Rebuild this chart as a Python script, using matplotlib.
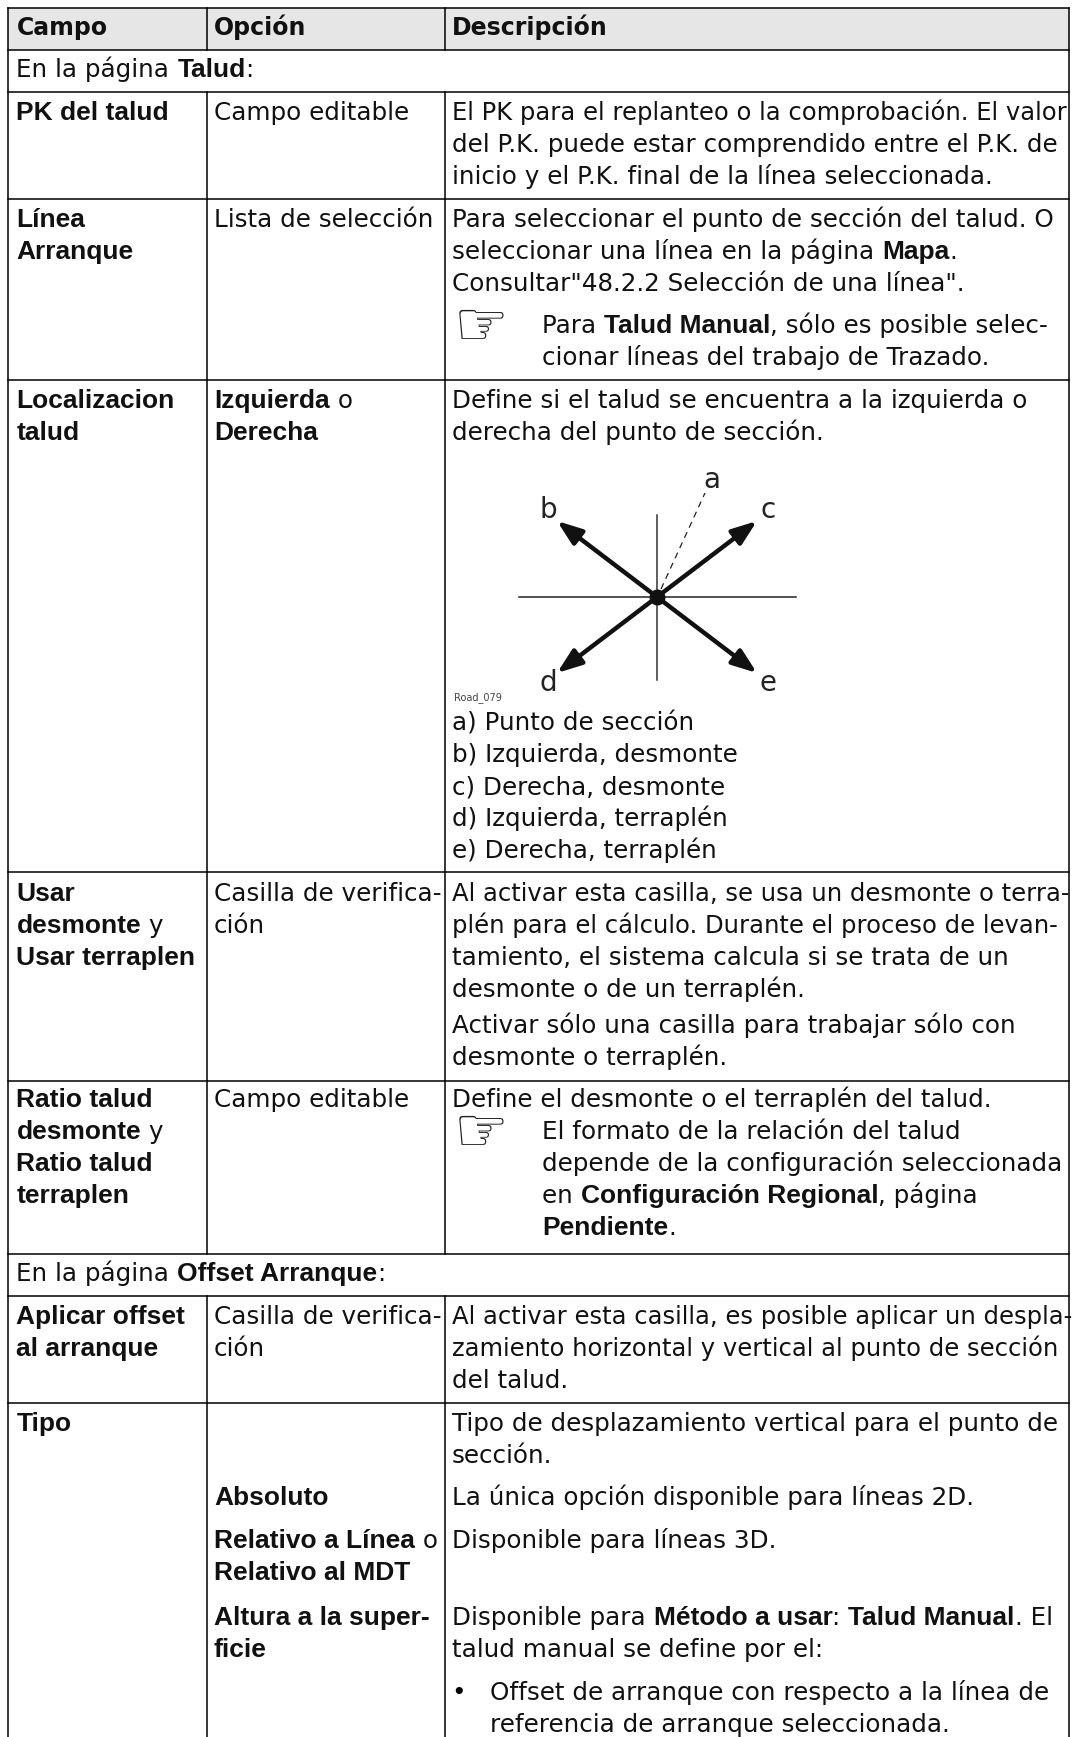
import re
import matplotlib
matplotlib.use('Agg')
import matplotlib.pyplot as plt

# table text, **x** marks bold runs
headers = ['Campo', 'Opción', 'Descripción']
section_titles = ['En la página **Talud**:', 'En la página **Offset Arranque**:']

campo = ['PK del talud', 'Línea', 'Arranque', 'Localizacion', 'talud',
         'Usar', 'desmonte** y', 'Usar terraplen',
         'Ratio talud', 'desmonte** y', 'Ratio talud', 'terraplen',
         'Aplicar offset', 'al arranque', 'Tipo']
campo_y = [120, 227, 259, 408, 440, 901, 933, 965, 1107, 1139, 1171, 1203, 1324, 1356, 1431]

opcion = ['Campo editable', 'Lista de selección', '**Izquierda** o', '**Derecha**',
          'Casilla de verifica-', 'ción', 'Campo editable',
          'Casilla de verifica-', 'ción', '**Absoluto**',
          '**Relativo a Línea** o', '**Relativo al MDT**',
          '**Altura a la super-**', '**ficie**']
opcion_y = [120, 227, 408, 440, 901, 933, 1107, 1324, 1356, 1505, 1548, 1580, 1625, 1657]

descripcion = [
    'El PK para el replanteo o la comprobación. El valor',
    'del P.K. puede estar comprendido entre el P.K. de',
    'inicio y el P.K. final de la línea seleccionada.',
    'Para seleccionar el punto de sección del talud. O',
    'seleccionar una línea en la página **Mapa**.',
    'Consultar"48.2.2 Selección de una línea".',
    'Define si el talud se encuentra a la izquierda o',
    'derecha del punto de sección.',
    'a) Punto de sección',
    'b) Izquierda, desmonte',
    'c) Derecha, desmonte',
    'd) Izquierda, terraplén',
    'e) Derecha, terraplén',
    'Al activar esta casilla, se usa un desmonte o terra-',
    'plén para el cálculo. Durante el proceso de levan-',
    'tamiento, el sistema calcula si se trata de un',
    'desmonte o de un terraplén.',
    'Activar sólo una casilla para trabajar sólo con',
    'desmonte o terraplén.',
    'Define el desmonte o el terraplén del talud.',
    'Al activar esta casilla, es posible aplicar un despla-',
    'zamiento horizontal y vertical al punto de sección',
    'del talud.',
    'Tipo de desplazamiento vertical para el punto de',
    'sección.',
    'La única opción disponible para líneas 2D.',
    'Disponible para líneas 3D.',
    'Disponible para **Método a usar**: **Talud Manual**. El',
    'talud manual se define por el:',
]
descripcion_y = [120, 152, 184, 227, 259, 291, 408, 440, 730, 762, 794, 826, 858,
                 901, 933, 965, 997, 1033, 1065, 1107, 1324, 1356, 1388,
                 1431, 1463, 1505, 1548, 1625, 1657]

# these lines sit tight against the right border in the reference
tight_lines = [descripcion[0], descripcion[13], descripcion[14], descripcion[20], descripcion[21]]

notas = ['Para **Talud Manual**, sólo es posible selec-',
         'cionar líneas del trabajo de Trazado.',
         'El formato de la relación del talud',
         'depende de la configuración seleccionada',
         'en **Configuración Regional**, página',
         '**Pendiente**.']
notas_y = [333, 365, 1139, 1171, 1203, 1235]
nota_mano_y = [333, 1139]

vinetas = ['Offset de arranque con respecto a la línea de',
           'referencia de arranque seleccionada.']
vinetas_y = [1700, 1732]

diagram_labels = ['a', 'b', 'c', 'd', 'e']
diagram_label_x = [712, 548, 768, 548, 768]
diagram_label_y = [488, 518, 518, 691, 691]
arrow_x = [557, 757, 557, 757]
arrow_y = [521, 521, 673, 673]

rows_y = [7.5, 50, 92, 199, 380, 872, 1081, 1254, 1296, 1403]
col_x = [7.5, 207, 445, 1069]

W, H = 1078, 1737
fig = plt.figure(figsize=(W / 100, H / 100), dpi=100)
ax = fig.add_axes([0, 0, 1, 1])
ax.set_xlim(0, W)
ax.set_ylim(H, 0)
ax.axis('off')
renderer = fig.canvas.get_renderer()

REG = dict(family='DejaVu Sans', fontsize=17.7)
REG_TIGHT = dict(family='DejaVu Sans', fontsize=17.5)
BOLD = dict(family='Liberation Sans', fontsize=19, fontweight='bold')


def text_width(s, style):
    t = ax.text(0, 0, '|' + s + '|', **style)
    w = t.get_window_extent(renderer).width
    t.set_text('||')
    w -= t.get_window_extent(renderer).width
    t.remove()
    return w


def draw_runs(x, y, s, start_bold=False):
    bold = start_bold
    reg = REG_TIGHT if s in tight_lines else REG
    for run in re.split(r'\*\*', s):
        if run:
            style = BOLD if bold else reg
            ax.text(x, y, run, va='baseline', ha='left', color='#111111', **style)
            x += text_width(run, style)
        bold = not bold


# header band and grid
ax.fill_between([col_x[0], col_x[3]], rows_y[0], rows_y[1], color='#e6e6e6', lw=0, zorder=0)
for y in rows_y:
    ax.plot([col_x[0], col_x[3]], [y, y], color='k', lw=1.1)
ax.plot([col_x[0], col_x[0]], [rows_y[0], H], color='k', lw=1.1)
ax.plot([col_x[3], col_x[3]], [rows_y[0], H], color='k', lw=1.1)
for x in col_x[1:3]:
    for top, bottom in [(rows_y[0], rows_y[1]), (rows_y[2], rows_y[7]), (rows_y[8], H)]:
        ax.plot([x, x], [top, bottom], color='k', lw=1.1)

for x, h in zip([16.5, 214, 452], headers):
    ax.text(x, 35, h, va='baseline', family='DejaVu Sans', fontsize=17, fontweight='bold', color='#111111')

for y, s in zip([77, 1281], section_titles):
    draw_runs(16.5, y, s)
for s, y in zip(campo, campo_y):
    draw_runs(16.5, y, s, start_bold=True)
for s, y in zip(opcion, opcion_y):
    draw_runs(214, y, s)
for s, y in zip(descripcion, descripcion_y):
    draw_runs(452, y, s)
for s, y in zip(notas, notas_y):
    draw_runs(542, y, s)
for y in nota_mano_y:
    ax.text(454, y + 11, '\u261e', va='baseline', family='DejaVu Sans', fontsize=44, color='#222222')
for s, y in zip(vinetas, vinetas_y):
    draw_runs(490, y, s)
ax.text(451, vinetas_y[0], '\u2022', va='baseline', **REG)

# slope diagram
cx, cy = 657, 597
ax.plot([519, 796], [cy, cy], color='#222222', lw=1.1)
ax.plot([cx, cx], [515, 680], color='#333333', lw=1.1)
ax.plot([cx + 4, 705], [cy - 8, 493], color='#222222', lw=0.9, ls=(0, (5, 4)))
for x, y in zip(arrow_x, arrow_y):
    ax.annotate('', xy=(x, y), xytext=(cx, cy),
                arrowprops=dict(arrowstyle='-|>,head_length=1.5,head_width=0.55', color='#111111',
                                lw=3.2, shrinkA=0, shrinkB=0))
ax.plot([cx], [cy], 'o', color='#111111', ms=10.5)
for s, x, y in zip(diagram_labels, diagram_label_x, diagram_label_y):
    ax.text(x, y, s, ha='center', va='baseline', family='DejaVu Sans', fontsize=20, color='#222222')
ax.text(454, 700, 'Road_079', va='baseline', family='DejaVu Sans', fontsize=7, color='#444444')

fig.savefig('out.png', dpi=100)
